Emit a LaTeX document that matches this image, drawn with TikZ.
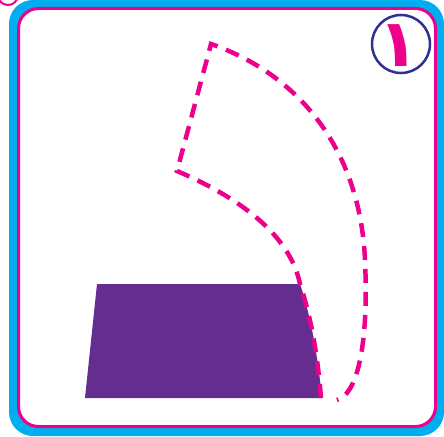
\documentclass[tikz,border=0pt]{standalone}
\usepackage{fontspec}
\newfontfamily\arabicfont[Script=Arabic]{DejaVu Sans}
\TeXXeTstate=1
\definecolor{rahmenblau}{HTML}{00AEEF}
\definecolor{pink}{HTML}{EC008C}
\definecolor{lila}{HTML}{662D91}
\definecolor{dunkelblau}{HTML}{2E3192}

\begin{document}
\begin{tikzpicture}[x=1pt, y=-1pt]
    \useasboundingbox (0,0) rectangle (444,436);

    % Rahmen
    \draw[pink, line width=2pt] (8,-5) circle (10);
    \fill[rahmenblau, rounded corners=24pt] (9,0) rectangle (444,436);
    \draw[pink, line width=3pt, fill=white, rounded corners=20pt] (18.5,8.5) rectangle (435.5,426.5);

    % Nummer
    \node[circle, draw=dunkelblau, line width=2.5pt, minimum size=58pt, inner sep=0pt] (nummer) at (401,44) {};
    \node[text=pink, inner sep=0pt] (ziffer) at (399,46) {\fontsize{66}{70}\selectfont\arabicfont\bfseries\beginR ١\endR};

    % Trapez
    \fill[lila] (97,284) -- (300,284) .. controls (312,320) and (318,360) .. (322,398) -- (85,398) -- cycle;

    % Gestrichelte Drehung
    \draw[pink, line width=4.5pt, dash pattern=on 14pt off 9pt]
        (321,398) .. controls (318,360) and (312,320) .. (300,284)
        .. controls (290,235) and (240,198) .. (177,171)
        -- (211,44)
        .. controls (300,75) and (360,150) .. (365,260)
        .. controls (369,350) and (356,395) .. (337,400);
\end{tikzpicture}
\end{document}
